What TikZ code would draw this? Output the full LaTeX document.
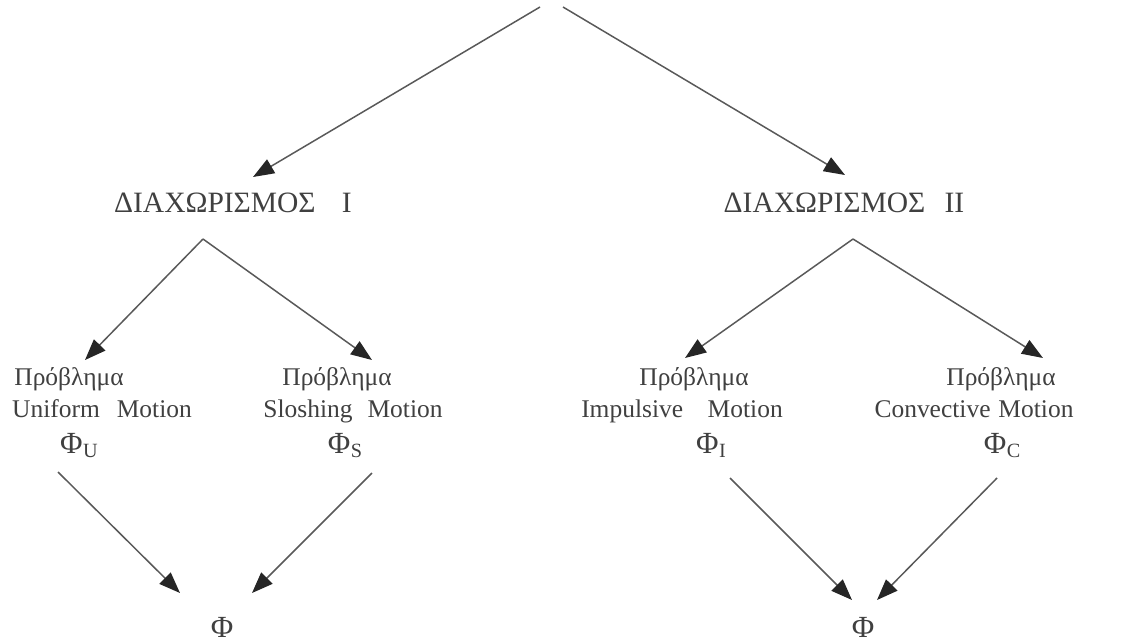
\documentclass[tikz,border=0pt]{standalone}
\usepackage{fontspec}
\setmainfont{Liberation Serif}
\usetikzlibrary{arrows.meta}

\newcommand{\phisub}[1]{Φ\kern0.3pt\raisebox{-2.3pt}{\fontsize{11.5pt}{12pt}\selectfont #1}}

\begin{document}
\begin{tikzpicture}[
  x=0.02cm, y=-0.02cm,
  every node/.style={text=black!75, inner sep=0pt},
  part/.style={anchor=base, font=\fontsize{16.8pt}{18pt}\selectfont},
  probl/.style={anchor=base, font=\fontsize{14.5pt}{16pt}\selectfont},
  phi/.style={anchor=base, font=\fontsize{17.5pt}{19pt}\selectfont},
  edge/.style={-{Triangle[length=12pt,width=9pt,color=black!85]}, line width=0.85pt, draw=black!65}
]
\useasboundingbox (0,0) rectangle (1131,643);

% two partitions
\node[part] (partI) at (233,212) {ΔΙΑΧΩΡΙΣΜΟΣ\hspace{15pt}I};
\node[part] (partII) at (844,212) {ΔΙΑΧΩΡΙΣΜΟΣ\hspace{11pt}II};

% sub-problems
\node[probl] (ttlU) at (69,385) {Πρόβλημα};
\node[probl] (ttlS) at (337,385) {Πρόβλημα};
\node[probl] (ttlI) at (694,385) {Πρόβλημα};
\node[probl] (ttlC) at (1001,385) {Πρόβλημα};
\node[probl] (motU) at (102,417) {Uniform\hspace{9.6pt}Motion};
\node[probl] (motS) at (353,417) {Sloshing\hspace{8.5pt}Motion};
\node[probl] (motI) at (682,417) {Impulsive\hspace{14pt}Motion};
\node[probl] (motC) at (974,417) {Convective\hspace{4.5pt}Motion};
\node[phi] (phiU) at (79,453) {\phisub{U}};
\node[phi] (phiS) at (345,453) {\phisub{S}};
\node[phi] (phiI) at (711,453) {\phisub{I}};
\node[phi] (phiC) at (1002,453) {\phisub{C}};

% totals
\node[phi] (sumI) at (222,637) {Φ};
\node[phi] (sumII) at (863,637) {Φ};

% free ends of the connectors
\coordinate (topL) at (540,7);
\coordinate (topR) at (563,7);
\coordinate (tipI) at (253,177);
\coordinate (tipII) at (845,175);
\coordinate (apexI) at (203,239);
\coordinate (apexII) at (853,239);
\coordinate (tipU) at (85,360);
\coordinate (tipS) at (372,360);
\coordinate (tipI2) at (685,358);
\coordinate (tipC) at (1043,358);
\coordinate (fromU) at (58,472);
\coordinate (fromS) at (372,473);
\coordinate (fromI) at (730,478);
\coordinate (fromC) at (997,478);
\coordinate (toUS) at (180,593);
\coordinate (toSU) at (252,593);
\coordinate (toIC) at (852,600);
\coordinate (toCI) at (877,600);

\draw[edge] (topL) -- (tipI);
\draw[edge] (topR) -- (tipII);
\draw[edge] (apexI) -- (tipU);
\draw[edge] (apexI) -- (tipS);
\draw[edge] (apexII) -- (tipI2);
\draw[edge] (apexII) -- (tipC);
\draw[edge] (fromU) -- (toUS);
\draw[edge] (fromS) -- (toSU);
\draw[edge] (fromI) -- (toIC);
\draw[edge] (fromC) -- (toCI);
\end{tikzpicture}
\end{document}
